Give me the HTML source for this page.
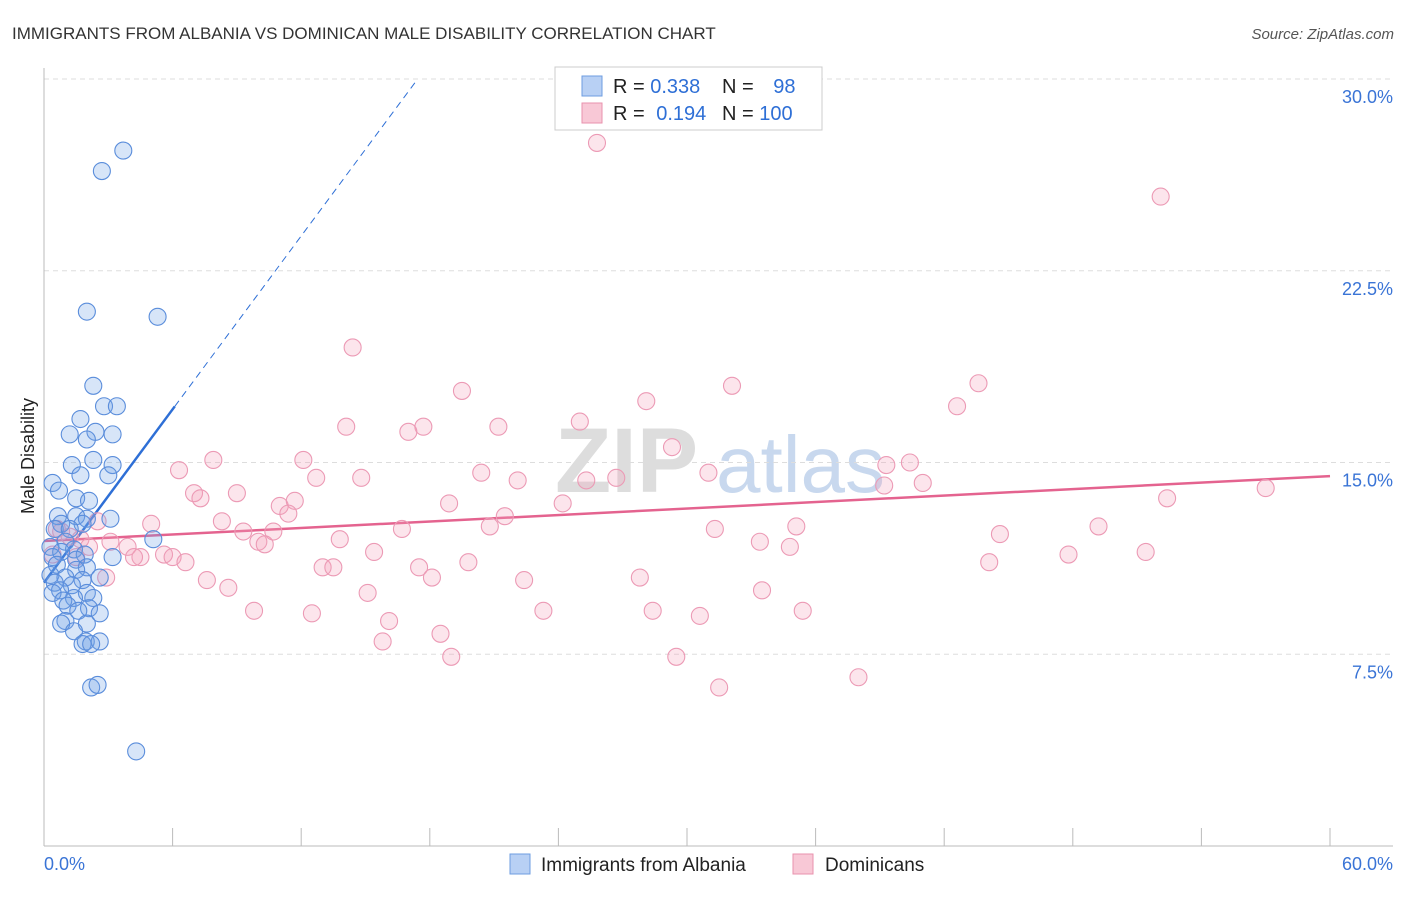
<!DOCTYPE html>
<html><head><meta charset="utf-8"><style>
body{margin:0;background:#fff;font-family:"Liberation Sans",sans-serif;}
svg text{font-family:"Liberation Sans",sans-serif;}
</style></head><body>
<svg id="chart" width="1406" height="892">
<text x="12" y="39" font-size="17" fill="#333">IMMIGRANTS FROM ALBANIA VS DOMINICAN MALE DISABILITY CORRELATION CHART</text>
<text x="1394" y="39" font-size="15" fill="#555" font-style="italic" text-anchor="end">Source: ZipAtlas.com</text>
<text x="34" y="456" font-size="18" fill="#222" text-anchor="middle" transform="rotate(-90 34 456)">Male Disability</text>
<g><text x="555" y="492" font-size="92" fill="#ddd" font-family="Liberation Serif" font-weight="bold">ZIP</text><text x="716" y="492" font-size="80" fill="#c8d8ee">atlas</text></g>
<g id="grid"></g><g id="axes"></g><g id="lines"></g><g id="pts"></g>
<g>
<rect x="555" y="67" width="267" height="63" fill="#fff" stroke="#ccc"/>
<rect x="582" y="76" width="20" height="20" fill="#b8d0f4" stroke="#6e9de0"/>
<rect x="582" y="103" width="20" height="20" fill="#f8c8d6" stroke="#e892ad"/>
<text x="613" y="93" font-size="20" fill="#222">R = <tspan fill="#2e6fd6">0.338</tspan></text>
<text x="722" y="93" font-size="20" fill="#222">N = <tspan fill="#2e6fd6" dx="14">98</tspan></text>
<text x="613" y="120" font-size="20" fill="#222">R = <tspan fill="#2e6fd6" dx="6">0.194</tspan></text>
<text x="722" y="120" font-size="20" fill="#222">N = <tspan fill="#2e6fd6">100</tspan></text>
</g>
<g>
<rect x="510" y="854" width="20" height="20" fill="#b8d0f4" stroke="#6e9de0"/>
<text x="541" y="871" font-size="19" fill="#222">Immigrants from Albania</text>
<rect x="793" y="854" width="20" height="20" fill="#f8c8d6" stroke="#e892ad"/>
<text x="825" y="871" font-size="19" fill="#222">Dominicans</text>
</g>
</svg>
<script>
const yTicks=[7.5,15,22.5,30];
const yTickLabels=["7.5%","15.0%","22.5%","30.0%"];
const xTicks=[0,6,12,18,24,30,36,42,48,54,60];
const blueX=[3.7,2.7,2.0,5.3,2.3,2.8,3.4,1.7,1.2,2.4,3.2,2.0,2.3,1.3,3.2,1.7,3.0,0.4,0.7,1.5,2.1,0.65,1.5,3.1,2.0,1.8,0.8,0.5,1.2,5.1,1.0,0.3,1.4,0.8,1.9,0.4,3.2,1.5,0.6,2.0,1.5,0.3,2.6,1.0,1.8,0.5,1.3,0.75,2.0,0.4,1.4,2.3,0.9,1.1,2.1,1.6,2.6,1.0,2.0,0.8,1.4,1.95,2.6,1.8,2.2,2.2,2.5,4.3];
const blueY=[27.2,26.4,20.9,20.7,18.0,17.2,17.2,16.7,16.1,16.2,16.1,15.9,15.1,14.9,14.9,14.5,14.5,14.2,13.9,13.6,13.5,12.9,12.9,12.8,12.8,12.6,12.6,12.4,12.4,12.0,11.9,11.7,11.6,11.5,11.4,11.3,11.3,11.2,11.0,10.9,10.8,10.6,10.5,10.5,10.4,10.3,10.2,10.0,9.9,9.9,9.7,9.7,9.6,9.4,9.3,9.2,9.1,8.8,8.7,8.7,8.4,8.0,8.0,7.9,7.9,6.2,6.3,3.7];
const pinkX=[25.8,52.1,14.4,19.5,32.1,43.6,28.1,42.6,25.0,14.1,17.7,17.0,21.2,29.3,7.9,12.1,6.3,20.4,31.0,40.4,39.3,12.7,14.8,22.1,25.3,26.7,39.2,41.0,57.0,7.0,7.3,9.0,11.0,11.7,18.9,24.2,52.4,11.4,8.3,21.5,2.5,5.0,16.7,20.8,35.1,31.3,49.2,9.3,10.7,44.6,13.8,33.4,10.0,10.3,3.1,34.8,3.9,15.4,5.6,47.8,51.4,4.5,4.2,6.0,6.6,19.8,44.1,13.0,13.5,17.5,2.9,7.6,18.1,22.4,27.8,8.6,15.1,33.5,9.8,12.5,23.3,28.4,30.6,35.4,16.1,18.5,15.8,19.0,29.5,38.0,31.5,0.6,0.8,1.2,1.7,2.1,1.5,0.4];
const pinkY=[27.5,25.4,19.5,17.8,18.0,18.1,17.4,17.2,16.6,16.4,16.4,16.2,16.4,15.6,15.1,15.1,14.7,14.6,14.6,15.0,14.9,14.4,14.4,14.3,14.3,14.4,14.1,14.2,14.0,13.8,13.6,13.8,13.3,13.5,13.4,13.4,13.6,13.0,12.7,12.9,12.7,12.6,12.4,12.5,12.5,12.4,12.5,12.3,12.3,12.2,12.0,11.9,11.9,11.8,11.9,11.7,11.7,11.5,11.4,11.4,11.5,11.3,11.3,11.3,11.1,11.1,11.1,10.9,10.9,10.9,10.5,10.4,10.5,10.4,10.5,10.1,9.9,10.0,9.2,9.1,9.2,9.2,9.0,9.2,8.8,8.3,8.0,7.4,7.4,6.6,6.2,12.4,12.3,12.1,12.0,11.7,11.3,11.4];
const blueFit=[10.3,1.13];
const pinkFit=[11.93,0.0423];
const NS="http://www.w3.org/2000/svg";
const X=v=>44+v*(1286/60), Y=v=>846-v*(767/30);
function mk(tag,attrs,parent){const e=document.createElementNS(NS,tag);for(const k in attrs)e.setAttribute(k,attrs[k]);document.getElementById(parent).appendChild(e);return e;}
yTicks.forEach((t,i)=>{
 const g=mk('line',{x1:44,x2:1393,y1:Y(t),y2:Y(t),stroke:'#ddd','stroke-dasharray':'5,4'},'grid');
 
 
 const l=mk('text',{x:1393,y:Y(t)+24,'font-size':18,fill:'#3a74d6','text-anchor':'end'},'grid');l.textContent=yTickLabels[i];
 
 
});
const ya=mk('line',{x1:44,x2:44,y1:68,y2:846,stroke:'#bbb'},'axes');


const xa=mk('line',{x1:44,x2:1393,y1:846,y2:846,stroke:'#bbb'},'axes');


xTicks.forEach(t=>{const k=mk('line',{x1:X(t),x2:X(t),y1:828,y2:846,stroke:'#bbb'},'axes');
 
 });
[[0,'start','0.0%'],[60,'end','60.0%']].forEach(([v,a,s])=>{const l=mk('text',{x:v==0?44:1393,y:870,'font-size':18,fill:'#3a74d6','text-anchor':a},'axes');l.textContent=s;
 
 });
function pts(xs,ys,fill,stroke,name){xs.forEach((x,i)=>{const c=mk('circle',{cx:X(x),cy:Y(ys[i]),r:8.5,fill:fill,stroke:stroke,'stroke-width':1.1},'pts');
 
 });}
pts(pinkX,pinkY,'rgba(244,160,188,0.28)','#ec9ab5','dominicans-point');
pts(blueX,blueY,'rgba(110,160,230,0.28)','#5a8ddb','albania-point');
const bEnd=(30-blueFit[0])/blueFit[1];
const bd=mk('line',{x1:X(6.1),y1:Y(blueFit[0]+blueFit[1]*6.1),x2:X(bEnd),y2:Y(30),stroke:'#2e6fd6','stroke-width':1,'stroke-dasharray':'7,5'},'lines');


const bl=mk('line',{x1:X(0),y1:Y(blueFit[0]),x2:X(6.1),y2:Y(blueFit[0]+blueFit[1]*6.1),stroke:'#2e6fd6','stroke-width':2.5},'lines');


const pl=mk('line',{x1:X(0),y1:Y(pinkFit[0]),x2:X(60),y2:Y(pinkFit[0]+pinkFit[1]*60),stroke:'#e4638f','stroke-width':2.5},'lines');


</script>
</body></html>
